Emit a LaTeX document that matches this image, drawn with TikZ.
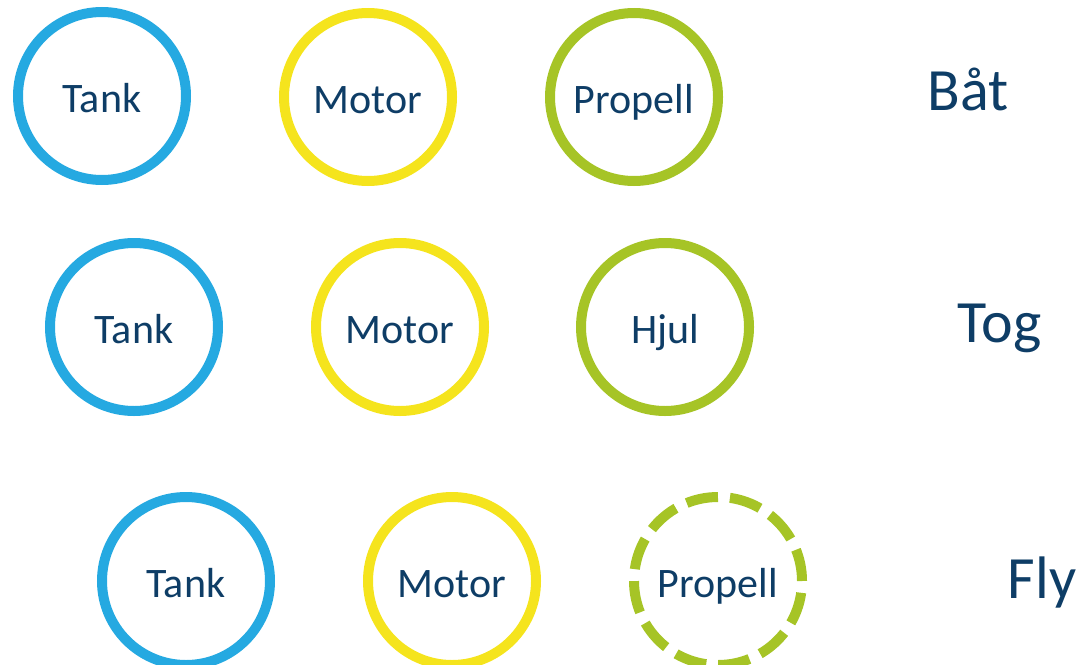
\documentclass[tikz,border=0pt]{standalone}
\usepackage{fontspec}
\setmainfont{Carlito}
\definecolor{tankblue}{HTML}{25A9E1}
\definecolor{motoryellow}{HTML}{F5E41D}
\definecolor{partgreen}{HTML}{A6C426}
\definecolor{textblue}{HTML}{0E3D66}

\begin{document}
\begin{tikzpicture}[x=0.75pt,y=-0.75pt,
        part/.style={circle,line width=7.5pt,minimum size=126pt,inner sep=0pt,
            text=textblue,font=\fontsize{31.5}{31.5}\selectfont,
            text height=25pt,text depth=0pt},
        tank/.style={part,draw=tankblue},
        motor/.style={part,draw=motoryellow},
        drive/.style={part,draw=partgreen},
        missing/.style={drive,dash pattern=on 24pt off 9pt},
        vehicle/.style={anchor=base west,text=textblue,font=\fontsize{45}{45}\selectfont}]
        \useasboundingbox (0,0) rectangle (1084,664);
        % boat
        \node[tank] (tankbat) at (102,96) {Tank};
        \node[motor] (motorbat) at (368,97) {Motor};
        \node[drive] (propbat) at (634,97) {Propell};
        \node[vehicle] (bat) at (923,110) {Båt};
        % train
        \node[tank] (tanktog) at (134,327) {Tank};
        \node[motor] (motortog) at (400,327) {Motor};
        \node[drive] (hjultog) at (665,327) {Hjul};
        \node[vehicle] (tog) at (953,342) {Tog};
        % plane
        \node[tank] (tankfly) at (186,581) {Tank};
        \node[motor] (motorfly) at (452,581) {Motor};
        \node[missing] (propfly) at (718,581) {Propell};
        \node[vehicle] (fly) at (1003,598) {Fly};
\end{tikzpicture}
\end{document}
